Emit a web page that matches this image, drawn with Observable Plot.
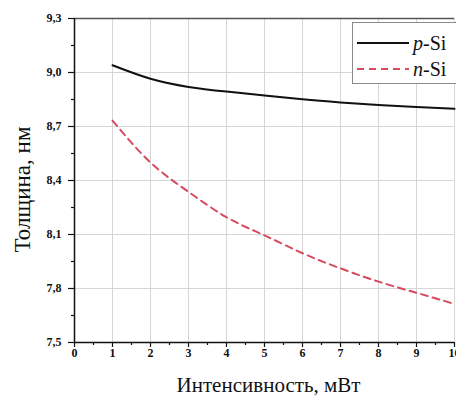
<!DOCTYPE html>
<html><head><meta charset="utf-8">
<script src="https://cdn.jsdelivr.net/npm/d3@7"></script>
<script src="https://cdn.jsdelivr.net/npm/@observablehq/plot@0.6"></script>
<style>
html,body{margin:0;padding:0;overflow:hidden;background:#fff;width:456px;height:396px}
#wrap{position:relative;width:456px;height:396px;overflow:hidden}
#wrap > svg{position:absolute;left:0;top:0;max-width:none !important;width:480px;height:396px}
#wrap svg text{font-family:"Liberation Serif",serif}
#legend{position:absolute;left:352px;top:22px;width:130px;height:62px;border:1.5px solid #8a8a8a;box-sizing:border-box;background:#fff;font-family:"Liberation Serif";font-size:20px;color:#111}
#legend .row{position:absolute;left:4px;height:24px;display:flex;align-items:center}
#legend svg{position:static}
</style></head><body><div id="wrap"></div>
<script>
const intensity = [1, 2, 3, 4, 5, 6, 7, 8, 9, 10];
const pSi = [9.04, 8.965, 8.92, 8.894, 8.872, 8.851, 8.834, 8.82, 8.809, 8.798];
const nSi = [8.733, 8.50, 8.337, 8.196, 8.095, 7.996, 7.912, 7.838, 7.776, 7.714];
const seriesNames = ["p-Si", "n-Si"];
const seriesColors = ["#111111", "#d64a5e"];
const xTicks = [0, 1, 2, 3, 4, 5, 6, 7, 8, 9, 10];
const xMinor = [0.5, 1.5, 2.5, 3.5, 4.5, 5.5, 6.5, 7.5, 8.5, 9.5];
const yTicks = [7.5, 7.8, 8.1, 8.4, 8.7, 9.0, 9.3];
const yMinor = [7.65, 7.95, 8.25, 8.55, 8.85, 9.15];
const xLabel = "Интенсивность, мВт";
const yLabel = "Толщина, нм";

const fmt = d => d3.format(".1f")(d).replace(".", ",");

const chart = Plot.plot({
  width: 480, height: 396,
  marginLeft: 74, marginRight: 26, marginTop: 18, marginBottom: 54,
  style: {fontFamily: "Liberation Serif", background: "white", color: "#111", maxWidth: "none"},
  x: {domain: [0, 10]},
  y: {domain: [7.5, 9.3]},
  marks: [
    Plot.gridX(xTicks, {stroke: "#d6d6d6", strokeOpacity: 1}),
    Plot.gridY(yTicks, {stroke: "#d6d6d6", strokeOpacity: 1}),
    Plot.axisX(xMinor, {tickSize: 3, text: null, strokeWidth: 1.2, label: null}),
    Plot.axisX(xTicks, {tickSize: 5, tickPadding: 1, strokeWidth: 1.2, tickFormat: d => String(d), fontWeight: "bold", fontSize: 12, label: null}),
    Plot.axisY(yMinor, {tickSize: 3, text: null, strokeWidth: 1.2, label: null}),
    Plot.axisY(yTicks, {tickSize: 6, tickPadding: 7, strokeWidth: 1.2, tickFormat: fmt, fontWeight: "bold", fontSize: 12, label: null}),
    Plot.ruleY([9.3], {stroke: "#555", strokeWidth: 1.5}),
    Plot.ruleX([0], {stroke: "#111", strokeWidth: 1.5}),
    Plot.ruleY([7.5], {stroke: "#111", strokeWidth: 1.5}),
    Plot.line(intensity, {x: intensity, y: pSi, curve: "natural", stroke: seriesColors[0], strokeWidth: 2}),
    Plot.line(intensity, {x: intensity, y: nSi, curve: "natural", stroke: seriesColors[1], strokeWidth: 2, strokeDasharray: "7,5"}),
    Plot.text([xLabel], {frameAnchor: "bottom", lineAnchor: "middle", dy: 43, dx: 4, fontSize: 21, fill: "#111"}),
    Plot.text([yLabel], {frameAnchor: "left", textAnchor: "middle", lineAnchor: "middle", rotate: -90, dx: -52, dy: 9, fontSize: 23, fill: "#111"})
  ]
});
document.getElementById("wrap").appendChild(chart);

const legend = document.createElement("div");
legend.id = "legend";
legend.innerHTML = seriesNames.map((name, i) => {
  const [a, b] = name.split("-");
  const dash = i === 1 ? ' stroke-dasharray="7,5"' : '';
  return `<div class="row" style="top:${8 + i * 26}px"><svg width="54" height="10"><line x1="0" x2="52" y1="5" y2="5" stroke="${seriesColors[i]}" stroke-width="2"${dash}/></svg><span style="margin-left:2px"><i>${a}</i>-${b}</span></div>`;
}).join("");
document.getElementById("wrap").appendChild(legend);
</script>
</body></html>
